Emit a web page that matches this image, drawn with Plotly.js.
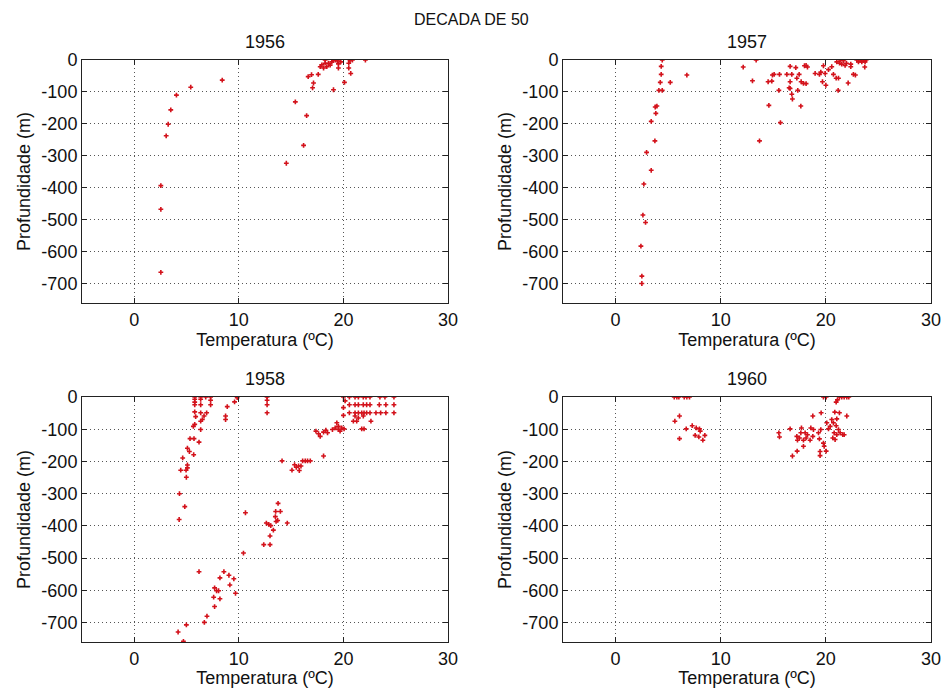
<!DOCTYPE html>
<html>
<head>
<meta charset="utf-8">
<script src="https://cdn.plot.ly/plotly-3.0.1.min.js"></script>
<style>html,body{margin:0;padding:0;background:#fff;}#chart{width:942px;height:688px;}</style>
</head>
<body>
<div id="chart"></div>
<script>
// ---- Data (temperature in ºC, depth in m) ----
const years = ["1956", "1957", "1958", "1960"];

const temp1956 = [8.41,5.40,4.03,3.49,3.24,3.05,2.54,2.54,2.54,15.40,16.48,16.19,14.54,17.05,17.14,16.63,16.95,17.59,19.05,20.10,20.70,22.10,
  17.78,17.94,18.25,18.41,18.25,18.73,18.89,19.05,19.27,19.43,19.52,19.52,19.75,20.51,20.51,20.63,20.86,18.10,18.57];
const depth1956 = [-63,-85,-110,-156,-201,-237,-393,-467,-664,-131,-174,-267,-323,-87,-72,-52,-46,-45,-93,-70,-42,0,
  -21,-15,-10,-21,0,-16,-6,-2,0,-2,-12,-25,-6,-25,-10,-2,0,-25,-10];

const temp1957 = [4.44,4.34,4.34,4.25,4.12,4.44,5.20,6.78,3.93,3.77,3.83,3.39,3.74,2.95,3.39,2.69,2.60,2.85,2.41,2.50,2.50,
  13.37,12.14,13.02,13.69,14.58,15.68,14.51,14.86,14.92,15.08,15.59,15.53,16.29,16.60,16.76,16.60,16.51,16.60,16.76,16.82,
  17.14,17.24,17.46,17.33,17.62,17.65,17.87,18.12,17.97,18.12,18.25,18.98,19.39,19.52,19.77,19.68,20.00,19.93,20.25,20.56,
  20.72,20.98,21.20,21.17,21.04,21.30,21.51,21.83,21.96,22.12,22.37,22.37,22.62,22.81,22.94,23.26,23.57,23.83,23.10,23.42,
  23.73,23.70,21.36,21.67];
const depth1957 = [0,-20,-45,-70,-95,-95,-70,-47,-144,-147,-167,-192,-253,-289,-345,-388,-485,-508,-582,-676,-699,
  0,-22,-65,-253,-142,-196,-68,-66,-47,-45,-45,-95,-45,-20,-45,-68,-87,-89,-107,-122,
  -24,-57,-45,-95,-144,-68,-73,-74,-18,-17,-22,-42,-45,-38,-18,-68,-79,-42,-30,-21,
  -45,-57,-57,-95,-6,-10,-13,-17,-10,-72,-13,-21,-45,-47,0,0,0,0,-6,-6,
  -6,-22,0,-2];

const temp1958 = [5.78,5.78,5.78,5.78,6.35,6.35,6.35,6.83,7.30,7.30,7.30,
  5.78,5.87,6.35,6.67,6.92,6.51,6.35,5.78,5.65,6.35,8.89,8.73,8.73,9.59,9.84,12.70,12.70,12.70,12.70,
  5.33,5.71,6.19,5.08,5.27,5.68,4.63,5.08,5.08,4.95,4.44,4.98,4.32,4.83,4.29,
  10.63,10.44,12.63,12.86,13.05,13.30,13.49,13.56,13.71,13.52,13.97,13.75,14.63,12.98,12.38,12.98,
  6.19,8.57,8.19,9.05,9.52,7.68,7.87,8.06,9.14,9.68,7.59,8.19,7.68,6.95,6.70,4.98,4.19,4.70,
  14.13,15.08,15.33,15.49,15.71,15.78,15.94,16.10,16.35,16.57,16.83,18.10,
  17.37,17.62,17.78,18.10,18.32,18.48,18.95,19.21,19.37,19.52,19.52,19.68,19.84,20.06,20.00,
  20.00,20.57,21.11,21.43,21.90,22.16,22.54,23.49,23.97,24.83,
  20.57,21.11,21.43,21.90,22.22,22.54,23.43,24.06,24.83,
  20.57,21.11,21.43,21.75,21.97,22.22,22.54,23.11,23.56,24.06,24.83,
  20.00,20.16,21.11,21.43,21.27,21.90,22.63,21.75,21.97,20.95];
const depth1958 = [0,-7,-16,-24,0,-7,-24,0,0,-10,-24,
  -46,-61,-49,-59,-49,-70,-75,-85,-91,-101,-30,-59,-70,-15,-2,0,-10,-24,-49,
  -129,-129,-140,-159,-169,-179,-189,-211,-220,-227,-227,-249,-300,-340,-380,
  -359,-484,-391,-395,-399,-413,-371,-386,-383,-355,-355,-330,-391,-431,-458,-458,
  -542,-542,-561,-553,-564,-592,-601,-601,-583,-609,-621,-626,-650,-680,-699,-707,-729,-758,
  -198,-227,-210,-218,-214,-228,-214,-198,-198,-198,-198,-183,
  -106,-114,-122,-109,-103,-111,-101,-96,-80,-91,-101,-106,-96,-99,-57,
  0,0,0,0,0,0,0,0,0,0,
  -24,-24,-24,-24,-24,-24,-24,-24,-24,
  -49,-49,-49,-49,-49,-49,-49,-49,-49,-49,-49,
  -33,-12,-59,-65,-75,-59,-75,-99,-99,-75];

const temp1960 = [5.58,5.83,6.02,6.53,6.78,7.03,5.64,6.08,6.72,6.08,7.29,7.67,7.98,8.05,7.57,7.92,8.30,8.49,
  15.53,15.59,16.60,16.82,17.27,17.87,17.24,17.49,17.30,17.62,17.68,17.87,18.12,18.25,18.03,
  18.50,18.76,18.82,18.57,18.76,19.30,19.52,19.39,19.77,19.84,19.45,19.45,20.03,19.55,19.77,20.03,
  20.09,20.41,20.25,20.56,20.72,20.79,20.66,20.88,21.04,21.20,21.36,21.61,21.74,21.04,20.98,20.85,21.29,21.99,
  20.98,21.10,21.29,21.51,21.74,21.99,22.18];
const depth1960 = [0,0,0,0,0,0,-75,-59,-99,-129,-89,-96,-99,-106,-119,-124,-134,-119,
  -111,-124,-99,-183,-168,-153,-122,-127,-134,-111,-96,-134,-127,-117,-111,
  -134,-122,-101,-96,-59,-111,-101,-130,-143,-153,-169,-182,-168,-49,0,0,
  -80,-91,-99,-70,-80,-111,-127,-132,-117,-101,-111,-117,-117,-68,-89,-47,-49,-59,
  -16,-9,0,0,0,0,0];

const xTicks = [0, 10, 20, 30];
const xTickLabels = ["0", "10", "20", "30"];
const yTicks = [0, -100, -200, -300, -400, -500, -600, -700];
const yTickLabels = ["0", "-100", "-200", "-300", "-400", "-500", "-600", "-700"];
const xTitle = "Temperatura (ºC)";
const yTitle = "Profundidade (m)";
const mainTitle = "DECADA DE 50";

// ---- Layout ----
const FONT = "Liberation Sans, Arial, sans-serif";
const W = 942, H = 688;
const colDom = [[82 / W, 448 / W], [563 / W, 931 / W]];
const rowDom = [[1 - 303 / H, 1 - 60 / H], [1 - 642 / H, 1 - 397 / H]];

const temps = [temp1956, temp1957, temp1958, temp1960];
const depths = [depth1956, depth1957, depth1958, depth1960];

const traces = [];
const layout = {
  width: W, height: H,
  margin: {l: 0, r: 0, t: 0, b: 0},
  paper_bgcolor: "#fff", plot_bgcolor: "#fff",
  showlegend: false,
  font: {family: FONT, size: 18, color: "#111"},
  annotations: [{
    text: mainTitle, xref: "paper", yref: "paper", x: 0.5, y: 1 - 19 / H,
    xanchor: "center", yanchor: "middle", showarrow: false,
    font: {family: FONT, size: 16, color: "#111"}
  }]
};

for (let i = 0; i < 4; i++) {
  const r = Math.floor(i / 2), c = i % 2;
  const n = i + 1;
  const sfx = n === 1 ? "" : String(n);
  traces.push({
    type: "scatter", mode: "markers",
    x: temps[i], y: depths[i],
    xaxis: "x" + sfx, yaxis: "y" + sfx,
    marker: {symbol: "cross", size: 4, color: "#d3121b"},
    cliponaxis: true, hoverinfo: "x+y"
  });
  const common = {
    showline: true, linecolor: "#222", linewidth: 1, mirror: "ticks",
    ticks: "inside", ticklen: 5, tickcolor: "#222",
    showgrid: true, gridcolor: "#555", griddash: "1px,3px", gridwidth: 1,
    zeroline: false, tickfont: {family: FONT, size: 18, color: "#111"}
  };
  layout["xaxis" + sfx] = Object.assign({}, common, {
    domain: colDom[c], range: [-5, 30], tickvals: xTicks, ticktext: xTickLabels,
    anchor: "y" + sfx,
    title: {text: xTitle, font: {family: FONT, size: 18, color: "#111"}, standoff: 0}
  });
  layout["yaxis" + sfx] = Object.assign({}, common, {
    domain: rowDom[r], range: [-760, 0], tickvals: yTicks, ticktext: yTickLabels,
    anchor: "x" + sfx,
    title: {text: yTitle, font: {family: FONT, size: 18, color: "#111"}, standoff: 6}
  });
  layout.annotations.push({
    text: years[i], xref: "paper", yref: "paper",
    x: (colDom[c][0] + colDom[c][1]) / 2, y: rowDom[r][1] + 18 / H,
    xanchor: "center", yanchor: "middle", showarrow: false,
    font: {family: FONT, size: 18, color: "#111"}
  });
}

Plotly.newPlot("chart", traces, layout, {displayModeBar: false, staticPlot: true});
</script>
</body>
</html>
